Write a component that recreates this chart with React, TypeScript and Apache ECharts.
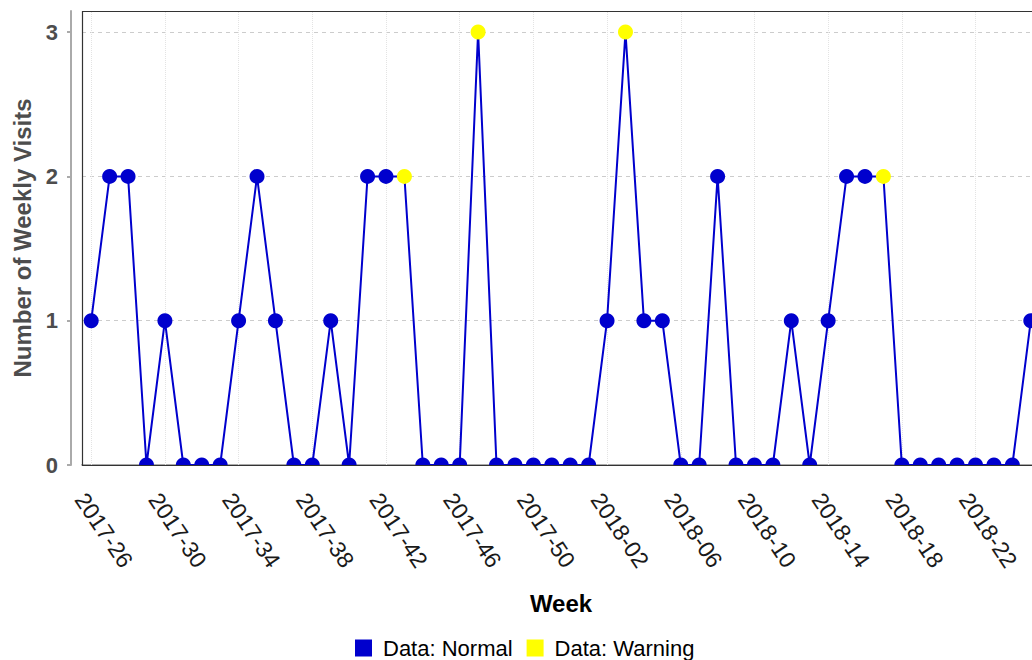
import React, { useEffect, useRef } from "react";
import * as echarts from "echarts";

const weeks = [
  "2017-26", "2017-27", "2017-28", "2017-29", "2017-30", "2017-31", "2017-32", "2017-33",
  "2017-34", "2017-35", "2017-36", "2017-37", "2017-38", "2017-39", "2017-40", "2017-41",
  "2017-42", "2017-43", "2017-44", "2017-45", "2017-46", "2017-47", "2017-48", "2017-49",
  "2017-50", "2017-51", "2017-52", "2018-01", "2018-02", "2018-03", "2018-04", "2018-05",
  "2018-06", "2018-07", "2018-08", "2018-09", "2018-10", "2018-11", "2018-12", "2018-13",
  "2018-14", "2018-15", "2018-16", "2018-17", "2018-18", "2018-19", "2018-20", "2018-21",
  "2018-22", "2018-23", "2018-24", "2018-25",
];

const visits = [
  1, 2, 2, 0, 1, 0, 0, 0, 1, 2, 1, 0, 0, 1, 0, 2, 2, 2, 0, 0, 0, 3, 0, 0, 0, 0,
  0, 0, 1, 3, 1, 1, 0, 0, 2, 0, 0, 0, 1, 0, 1, 2, 2, 2, 0, 0, 0, 0, 0, 0, 0, 1,
];

const warningWeeks = ["2017-43", "2017-47", "2018-03", "2018-17"];

const seriesNames = ["Data: Normal", "Data: Warning"];
const labelStep = 4;

const BLUE = "#0000CD";
const YELLOW = "#FFFF00";
const FONT = "'Liberation Sans', Arial, sans-serif";

export default function App() {
  const ref = useRef<HTMLDivElement>(null);

  useEffect(() => {
    document.body.style.margin = "0";
    document.body.style.overflow = "hidden";
    const chart = echarts.init(ref.current!, null, { renderer: "svg" });

    const gridLeft = 82;
    const gridTop = 11;
    const gridWidth = 958;
    const gridHeight = 454;

    const normalData = weeks.map((w, i) =>
      warningWeeks.includes(w)
        ? { value: visits[i], symbol: "none" }
        : { value: visits[i] }
    );
    const warnData = weeks.map((w, i) =>
      warningWeeks.includes(w) ? visits[i] : null
    );
    const vLines = weeks
      .filter((_, i) => i % labelStep === 0)
      .map((w) => ({ xAxis: w }));

    chart.setOption({
      animation: false,
      backgroundColor: "#ffffff",
      textStyle: { fontFamily: FONT },
      grid: {
        left: gridLeft,
        top: gridTop,
        width: gridWidth,
        height: gridHeight,
        show: false,
        containLabel: false,
      },
      legend: {
        data: seriesNames,
        left: 355,
        top: 637,
        padding: 0,
        icon: "rect",
        itemWidth: 17,
        itemHeight: 17,
        itemGap: 14,
        textStyle: {
          fontSize: 22,
          color: "#000000",
          fontFamily: FONT,
          padding: [0, 0, 0, 6],
        },
      },
      xAxis: {
        type: "category",
        data: weeks,
        boundaryGap: true,
        offset: 10,
        name: "Week",
        nameLocation: "middle",
        nameGap: 116,
        nameTextStyle: {
          fontSize: 24,
          fontWeight: "bold",
          color: "#000000",
          fontFamily: FONT,
          verticalAlign: "top",
        },
        axisLine: { show: true, lineStyle: { color: "#aaaaaa", width: 2 } },
        axisTick: {
          show: true,
          interval: labelStep - 1,
          alignWithLabel: true,
          length: 5,
          lineStyle: { color: "#aaaaaa", width: 2 },
        },
        axisLabel: {
          interval: labelStep - 1,
          rotate: -56,
          fontSize: 23,
          color: "#1a1a1a",
          fontFamily: FONT,
          margin: 13,
          align: "left",
          verticalAlign: "top",
          lineHeight: 26,
        },
        splitLine: { show: false },
      },
      yAxis: {
        type: "value",
        min: 0,
        max: 3.146,
        interval: 1,
        offset: 11,
        name: "Number of Weekly Visits",
        nameLocation: "middle",
        nameGap: 37,
        nameRotate: 90,
        nameTextStyle: {
          fontSize: 24,
          fontWeight: "bold",
          color: "#4d4d4d",
          fontFamily: FONT,
        },
        axisLine: { show: true, lineStyle: { color: "#aaaaaa", width: 2 } },
        axisTick: { show: true, length: 4, lineStyle: { color: "#aaaaaa", width: 2 } },
        axisLabel: {
          showMaxLabel: false,
          fontSize: 22,
          fontWeight: "bold",
          color: "#4d4d4d",
          fontFamily: FONT,
          margin: 13,
        },
        splitLine: {
          show: true,
          lineStyle: { color: "#cccccc", type: [4, 4], width: 1 },
        },
      },
      series: [
        {
          name: seriesNames[0],
          type: "line",
          data: normalData,
          symbol: "circle",
          symbolSize: 15,
          showAllSymbol: true,
          clip: false,
          itemStyle: { color: BLUE },
          lineStyle: { color: BLUE, width: 2 },
          z: 2,
          markLine: {
            silent: true,
            symbol: ["none", "none"],
            label: { show: false },
            z: 1,
            lineStyle: { color: "#e3e3e3", type: "dotted", width: 1 },
            data: vLines,
          },
        },
        {
          name: seriesNames[1],
          type: "line",
          data: warnData,
          symbol: "circle",
          symbolSize: 15,
          showAllSymbol: true,
          connectNulls: false,
          clip: false,
          itemStyle: { color: YELLOW },
          lineStyle: { width: 0, opacity: 0 },
          z: 3,
        },
      ],
      graphic: [
        {
          type: "rect",
          z: 100,
          silent: true,
          shape: { x: gridLeft - 2, y: gridTop + gridHeight + 0.5, width: gridWidth + 4, height: 8.5 },
          style: { fill: "#ffffff" },
        },
        {
          type: "rect",
          z: 101,
          silent: true,
          shape: { x: gridLeft + 0.5, y: gridTop + 0.5, width: gridWidth, height: gridHeight },
          style: { fill: "none", stroke: "#333333", lineWidth: 1.2 },
        },
      ],
    });

    return () => chart.dispose();
  }, []);

  return (
    <div
      style={{
        position: "fixed",
        left: 0,
        top: 0,
        width: 1032,
        height: 660,
        overflow: "hidden",
        background: "#ffffff",
      }}
    >
      <div ref={ref} style={{ width: 1060, height: 660 }} />
    </div>
  );
}
